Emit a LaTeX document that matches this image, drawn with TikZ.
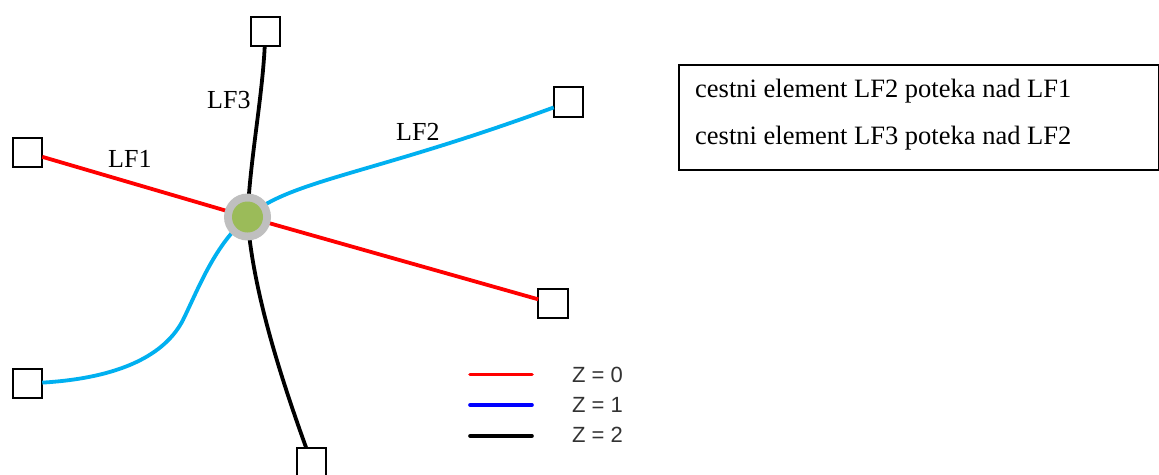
\documentclass[tikz,border=0pt]{standalone}
\usepackage{fontspec}
\setmainfont{Liberation Serif}
\newfontfamily\legendfont{Liberation Sans}
\definecolor{lfred}{RGB}{255,0,0}
\definecolor{lfcyan}{RGB}{0,176,240}
\definecolor{lfblue}{RGB}{0,0,255}
\definecolor{hubgray}{RGB}{191,191,191}
\definecolor{hubgreen}{RGB}{155,187,89}
\definecolor{legtext}{RGB}{51,51,51}
\begin{document}
\begin{tikzpicture}[x=1pt,y=-1pt,
  endbox/.style={draw=black, line width=1.8pt, fill=white, minimum size=29.5pt, inner sep=0pt, outer sep=0pt},
  edge/.style={line width=3.8pt},
  lbl/.style={font=\fontsize{26}{30}\selectfont, inner sep=0pt, anchor=base west},
  boxtext/.style={font=\fontsize{26.5}{30}\selectfont, inner sep=0pt, anchor=base west},
  legline/.style={line width=3.6pt, line cap=round},
  legtxt/.style={font=\legendfont\fontsize{22}{26}\selectfont, text=legtext, inner sep=0pt, anchor=base west}]
\useasboundingbox (0,0) rectangle (1159,474);
\fill[white] (0,0) rectangle (1159,474);

% end nodes
\node[endbox] (sqT)  at (265.5,31.5) {};
\node[endbox] (sqL)  at (27.5,152.5) {};
\node[endbox] (sqRT) at (568.5,102) {};
\node[endbox] (sqRB) at (553,303.5) {};
\node[endbox] (sqBL) at (27.5,383.5) {};
\node[endbox] (sqB)  at (311.5,462.5) {};
\coordinate (c) at (247.5,217);
\coordinate (bend) at (183,320);

% LF1 (red, Z=0)
\draw[edge, lfred] (sqL) -- (c);
\draw[edge, lfred] (c) -- (sqRB);
% LF2 (cyan)
\draw[edge, lfcyan] (sqBL) .. controls (120,378) and (165,355) .. (bend)
                    .. controls (200,285) and (215,245) .. (c);
\draw[edge, lfcyan] (c) .. controls (290,180) and (370,175) .. (sqRT);
% LF3 (black)
\draw[edge, black] (sqT) .. controls (262,100) and (250,160) .. (c);
\draw[edge, black] (c) .. controls (252,285) and (278,370) .. (sqB);

% hub
\node[circle, fill=hubgray, minimum size=47pt, inner sep=0pt] (hub) at (c) {};
\node[circle, fill=hubgreen, minimum size=31pt, inner sep=0pt] (hubin) at (c) {};

% labels
\node[lbl] (lf1) at (108,167) {LF1};
\node[lbl] (lf3) at (207,108) {LF3};
\node[lbl] (lf2) at (396,140) {LF2};

% text box
\node[draw=black, line width=1.8pt, minimum width=480pt, minimum height=105pt, anchor=north west, inner sep=0pt] (tbox) at (678,64) {};
\node[boxtext] (t1) at (695,97) {cestni element LF2 poteka nad LF1};
\node[boxtext] (t2) at (695,144) {cestni element LF3 poteka nad LF2};

% legend
\coordinate (l0a) at (470,374.5); \coordinate (l0b) at (532,374.5);
\coordinate (l1a) at (470,405);   \coordinate (l1b) at (532,405);
\coordinate (l2a) at (470,436);   \coordinate (l2b) at (532,436);
\draw[legline, lfred]  (l0a) -- (l0b);
\draw[legline, lfblue] (l1a) -- (l1b);
\draw[legline, black]  (l2a) -- (l2b);
\node[legtxt] (z0) at (572,382) {Z = 0};
\node[legtxt] (z1) at (572,412) {Z = 1};
\node[legtxt] (z2) at (572,442) {Z = 2};
\end{tikzpicture}
\end{document}
